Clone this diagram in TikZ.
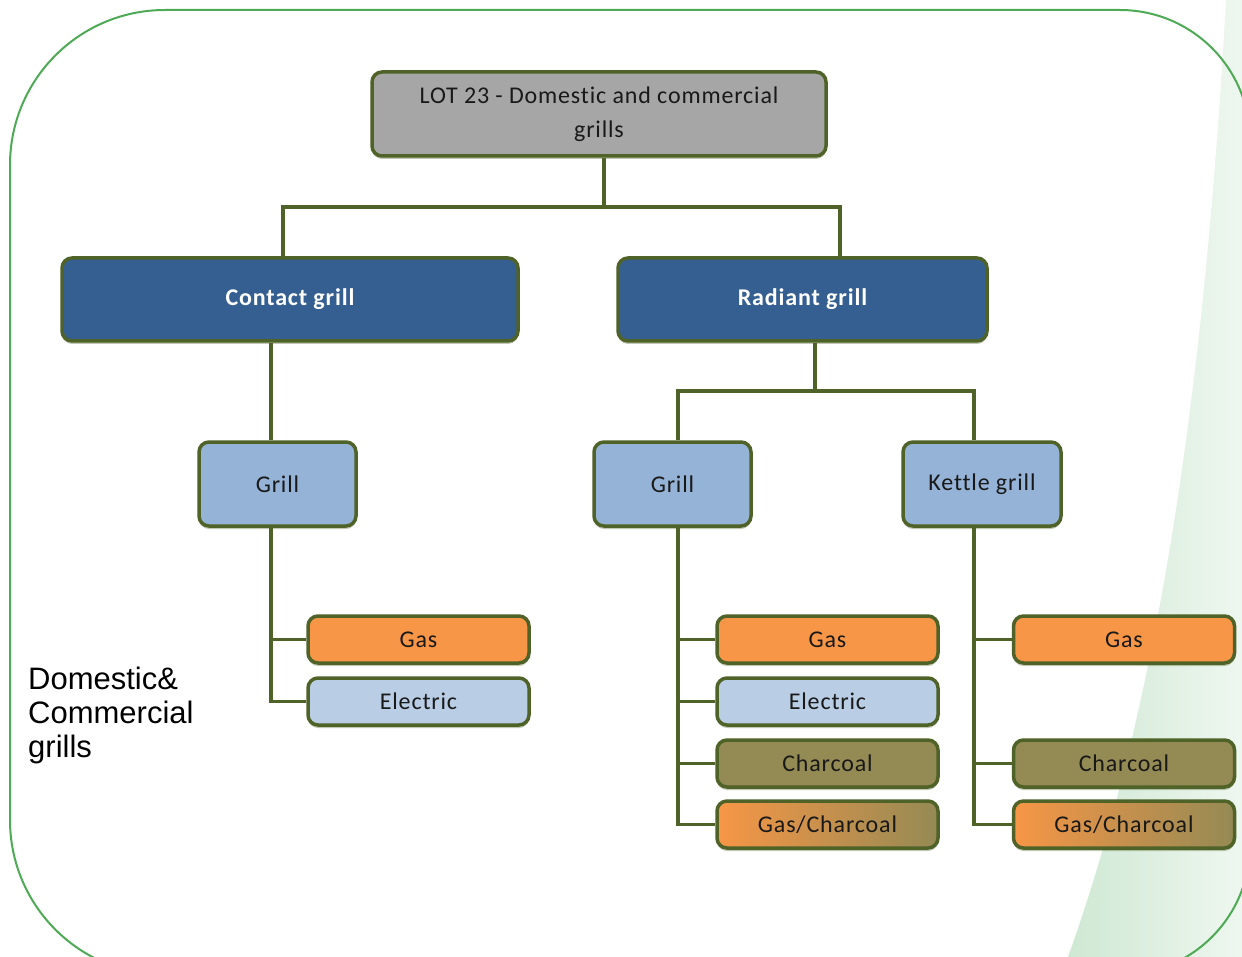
\documentclass[tikz,border=0pt]{standalone}
\usepackage{fontspec}
\setmainfont{Carlito}[LetterSpace=3.5, Ligatures=NoCommon]
\newfontfamily\arialfont{Liberation Sans}
\usetikzlibrary{shadows}
\definecolor{olivedk}{HTML}{4F6228}
\definecolor{grayfill}{HTML}{A6A6A6}
\definecolor{bluedk}{HTML}{365F91}
\definecolor{bluemd}{HTML}{95B3D7}
\definecolor{bluelt}{HTML}{B9CDE5}
\definecolor{orangef}{HTML}{F79646}
\definecolor{charf}{HTML}{948A54}
\definecolor{framec}{HTML}{4FAA55}
\definecolor{swoosh}{HTML}{CFE8D3}
\pgfdeclarelayer{bgA}
\pgfdeclarelayer{bgB}
\pgfsetlayers{bgA,bgB,main}
\tikzset{
  box/.style={draw=olivedk, line width=3.5pt, rounded corners=10pt, inner sep=0pt,
    align=center, text=black!90, font=\fontsize{24}{34}\selectfont,
    drop shadow={shadow xshift=0pt, shadow yshift=-3pt, fill=olivedk, opacity=0.35}},
  topbox/.style={box, fill=grayfill, minimum width=454, minimum height=84},
  lvl1/.style={box, fill=bluedk, minimum width=456, minimum height=83, text=white,
    font=\fontsize{24}{34}\selectfont\bfseries},
  lvl2/.style={box, fill=bluemd, minimum width=157, minimum height=84},
  leaf/.style={box, minimum width=221, minimum height=47},
  gasb/.style={leaf, fill=orangef},
  elecb/.style={leaf, fill=bluelt},
  charb/.style={leaf, fill=charf},
  mixb/.style={leaf, left color=orangef, right color=charf},
  conn/.style={draw=olivedk, line width=3.5pt},
  frame/.style={draw=framec, line width=2pt}
}
\begin{document}
\begin{tikzpicture}[x=1pt,y=-1pt]
\useasboundingbox (0,0) rectangle (1242,957);
\begin{pgfonlayer}{bgA}
  \clip (0,0) rectangle (1242,957);
  \fill[white] (0,0) rectangle (1242,957);
  \shade[left color=swoosh, right color=swoosh!35] (1226,0) .. controls (1205,380) and (1160,700) .. (1068,957) -- (1242,957) -- (1242,0) -- cycle;
  \draw[frame] (10,820) -- (10,165) arc[start angle=180,end angle=270,radius=155]
    -- (1120,10) arc[start angle=270,end angle=360,radius=130]
    -- (1250,845) arc[start angle=0,end angle=90,radius=130]
    -- (165,975) arc[start angle=90,end angle=180,radius=155] -- cycle;
\end{pgfonlayer}

\node[topbox] (top) at (599,114) {LOT 23 - Domestic and commercial\\grills};
\node[lvl1] (contact) at (290,299.5) {Contact grill};
\node[lvl1, minimum width=369] (radiant) at (802.5,299.5) {Radiant grill};
\node[lvl2] (grillL) at (277.5,484) {Grill};
\node[lvl2] (grillM) at (672.5,484) {Grill};
\node[lvl2, minimum width=158] (kettle) at (982,484) {Kettle grill};

\node[gasb] (gasL) at (418.5,639.5) {Gas};
\node[elecb] (elecL) at (418.5,701.5) {Electric};

\node[gasb] (gasM) at (827.5,639.5) {Gas};
\node[elecb] (elecM) at (827.5,701.5) {Electric};
\node[charb] (charM) at (827.5,763.5) {Charcoal};
\node[mixb] (mixM) at (827.5,824.5) {Gas/Charcoal};

\node[gasb] (gasR) at (1124,639.5) {Gas};
\node[charb] (charR) at (1124,763.5) {Charcoal};
\node[mixb] (mixR) at (1124,824.5) {Gas/Charcoal};

\node[anchor=north west, align=left, inner sep=0pt, font=\arialfont\fontsize{31}{34}\selectfont] (label) at (28,667) {Domestic\&\\Commercial\\grills};

\coordinate (jT) at (604,207);
\coordinate (jC) at (283,207);
\coordinate (jR) at (840,207);
\coordinate (xL) at (271,0);
\coordinate (jRad) at (815,391);
\coordinate (xM) at (678,0);
\coordinate (xK) at (974,0);

\begin{pgfonlayer}{bgB}
  \draw[conn] (top.south -| jT) -- (jT);
  \draw[conn] (contact.north -| jC) |- (jR) -- (radiant.north -| jR);
  \draw[conn] (contact.south -| xL) -- (grillL.north -| xL);
  \draw[conn] (grillL.south -| xL) |- (gasL.west);
  \draw[conn] (grillL.south -| xL) |- (elecL.west);
  \draw[conn] (radiant.south -| jRad) -- (jRad);
  \draw[conn] (grillM.north -| xM) -- (xM |- jRad) -- (xK |- jRad) -- (kettle.north -| xK);
  \draw[conn] (grillM.south -| xM) |- (gasM.west);
  \draw[conn] (grillM.south -| xM) |- (elecM.west);
  \draw[conn] (grillM.south -| xM) |- (charM.west);
  \draw[conn] (grillM.south -| xM) |- (mixM.west);
  \draw[conn] (kettle.south -| xK) |- (gasR.west);
  \draw[conn] (kettle.south -| xK) |- (charR.west);
  \draw[conn] (kettle.south -| xK) |- (mixR.west);
\end{pgfonlayer}
\end{tikzpicture}
\end{document}
